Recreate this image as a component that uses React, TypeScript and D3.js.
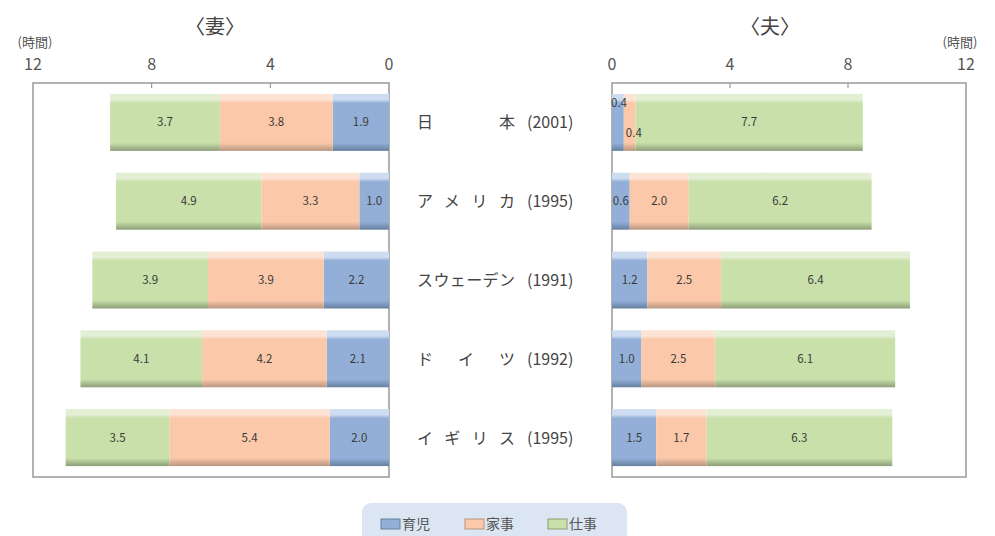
import React from "react";
import * as d3 from "d3";

const countries = ["日　　本", "アメリカ", "スウェーデン", "ドイツ", "イギリス"];
const years = ["(2001)", "(1995)", "(1991)", "(1992)", "(1995)"];
const seriesNames = ["育児", "家事", "仕事"];
const wifeChildcare = [1.9, 1.0, 2.2, 2.1, 2.0];
const wifeHousework = [3.8, 3.3, 3.9, 4.2, 5.4];
const wifeWork = [3.7, 4.9, 3.9, 4.1, 3.5];
const husbandChildcare = [0.4, 0.6, 1.2, 1.0, 1.5];
const husbandHousework = [0.4, 2.0, 2.5, 2.5, 1.7];
const husbandWork = [7.7, 6.2, 6.4, 6.1, 6.3];
const ticks = [0, 4, 8, 12];

const colors = [
  { top: "#cddcf0", base: "#93afd8", bottom: "#66809f" },
  { top: "#fde3d3", base: "#fbc8a9", bottom: "#b89580" },
  { top: "#e3efd5", base: "#c9e0aa", bottom: "#8c9e78" },
];

const FONT = "'Noto Sans CJK JP', 'Noto Sans', sans-serif";

export default function App() {
  const W = 995, H = 536;
  const top = 83, bottom = 477;
  const xL = d3.scaleLinear().domain([0, 12]).range([389, 33]);
  const xR = d3.scaleLinear().domain([0, 12]).range([612, 966]);
  const y = d3.scaleBand<string>().domain(countries).range([top, bottom]).paddingInner(0.277).paddingOuter(0.1385);
  const bw = y.bandwidth();

  const wife = countries.map((_, i) => [wifeChildcare[i], wifeHousework[i], wifeWork[i]]);
  const husband = countries.map((_, i) => [husbandChildcare[i], husbandHousework[i], husbandWork[i]]);

  const segs = (data: number[][], x: d3.ScaleLinear<number, number>, side: string) =>
    data.flatMap((vals, i) => {
      const y0 = y(countries[i])!;
      let acc = 0;
      return vals.map((v, k) => {
        const a = acc;
        acc += v;
        return { i, k, v, y0, xa: x(a), xb: x(a + v), side };
      });
    });

  const renderBars = (data: number[][], x: d3.ScaleLinear<number, number>, side: string) => {
    const s = segs(data, x, side);
    return (
      <g>
        {s.map((d) => (
          <rect key={`r${d.i}-${d.k}`} x={Math.min(d.xa, d.xb)} y={d.y0} width={Math.abs(d.xb - d.xa)} height={bw} fill={`url(#grad${d.k})`} />
        ))}
        {s.map((d) => {
          let lx = (d.xa + d.xb) / 2, ly = d.y0 + bw / 2 + 4, anchor = "middle";
          if (d.v < 0.5 && side === "h") {
            anchor = "start";
            if (d.k === 0) { lx = d.xa - 1; ly = d.y0 + 13; }
            else { lx = d.xa + 2; ly = d.y0 + bw - 14; }
          }
          return (
            <text key={`t${d.i}-${d.k}`} x={lx} y={ly} textAnchor={anchor} fontSize={11.5} fill="#3a3a3a" fontFamily={FONT}>
              {d.v.toFixed(1)}
            </text>
          );
        })}
      </g>
    );
  };

  const axis = (x: d3.ScaleLinear<number, number>, side: string) => (
    <g>
      {ticks.map((t) => (
        <g key={side + t}>
          <text x={x(t)} y={70} textAnchor="middle" fontSize={16} fill="#555" fontFamily={FONT}>
            {t}
          </text>
          {t !== 0 && t !== 12 && (
            <line x1={x(t)} x2={x(t)} y1={top} y2={top + 5} stroke="#888" strokeWidth={1} />
          )}
        </g>
      ))}
      <text x={x(12) + (side === "l" ? 2 : -6)} y={47} textAnchor="middle" fontSize={13} fill="#555" fontFamily={FONT}>
        (時間)
      </text>
    </g>
  );

  return (
    <svg width={W} height={H} style={{ position: "absolute", left: 0, top: 0, background: "#fff" }}>
      <defs>
        {colors.map((c, k) => (
          <linearGradient key={k} id={`grad${k}`} x1="0" y1="0" x2="0" y2="1">
            <stop offset="0" stopColor={c.top} />
            <stop offset="0.1" stopColor={c.top} />
            <stop offset="0.16" stopColor={c.base} />
            <stop offset="0.86" stopColor={c.base} />
            <stop offset="1" stopColor={c.bottom} />
          </linearGradient>
        ))}
      </defs>
      <text x={215} y={34} textAnchor="middle" fontSize={20} fill="#444" fontFamily={FONT}>〈妻〉</text>
      <text x={770} y={34} textAnchor="middle" fontSize={20} fill="#444" fontFamily={FONT}>〈夫〉</text>
      {axis(xL, "l")}
      {axis(xR, "r")}
      <rect x={xL(12)} y={top} width={xL(0) - xL(12)} height={bottom - top} fill="none" stroke="#999" strokeWidth={1.5} />
      <rect x={xR(0)} y={top} width={xR(12) - xR(0)} height={bottom - top} fill="none" stroke="#999" strokeWidth={1.5} />
      {renderBars(wife, xL, "w")}
      {renderBars(husband, xR, "h")}
      {countries.map((c, i) => {
        const cy = y(c)! + bw / 2 + 6;
        return (
          <g key={c}>
            <text x={417} y={cy} fontSize={16} fill="#444" fontFamily={FONT} textLength={98} lengthAdjust="spacing">
              {c}
            </text>
            <text x={527} y={cy} fontSize={16} fill="#444" fontFamily={FONT}>
              {years[i]}
            </text>
          </g>
        );
      })}
      <rect x={362} y={503} width={265} height={50} rx={9} fill="#dce6f2" />
      {seriesNames.map((s, k) => {
        const sx = [381, 465, 548][k];
        return (
          <g key={s}>
            <rect x={sx} y={519} width={19} height={10} fill={colors[k].base} stroke={colors[k].bottom} strokeWidth={1} />
            <text x={sx + 21} y={529} fontSize={14} fill="#555" fontFamily={FONT}>{s}</text>
          </g>
        );
      })}
    </svg>
  );
}
